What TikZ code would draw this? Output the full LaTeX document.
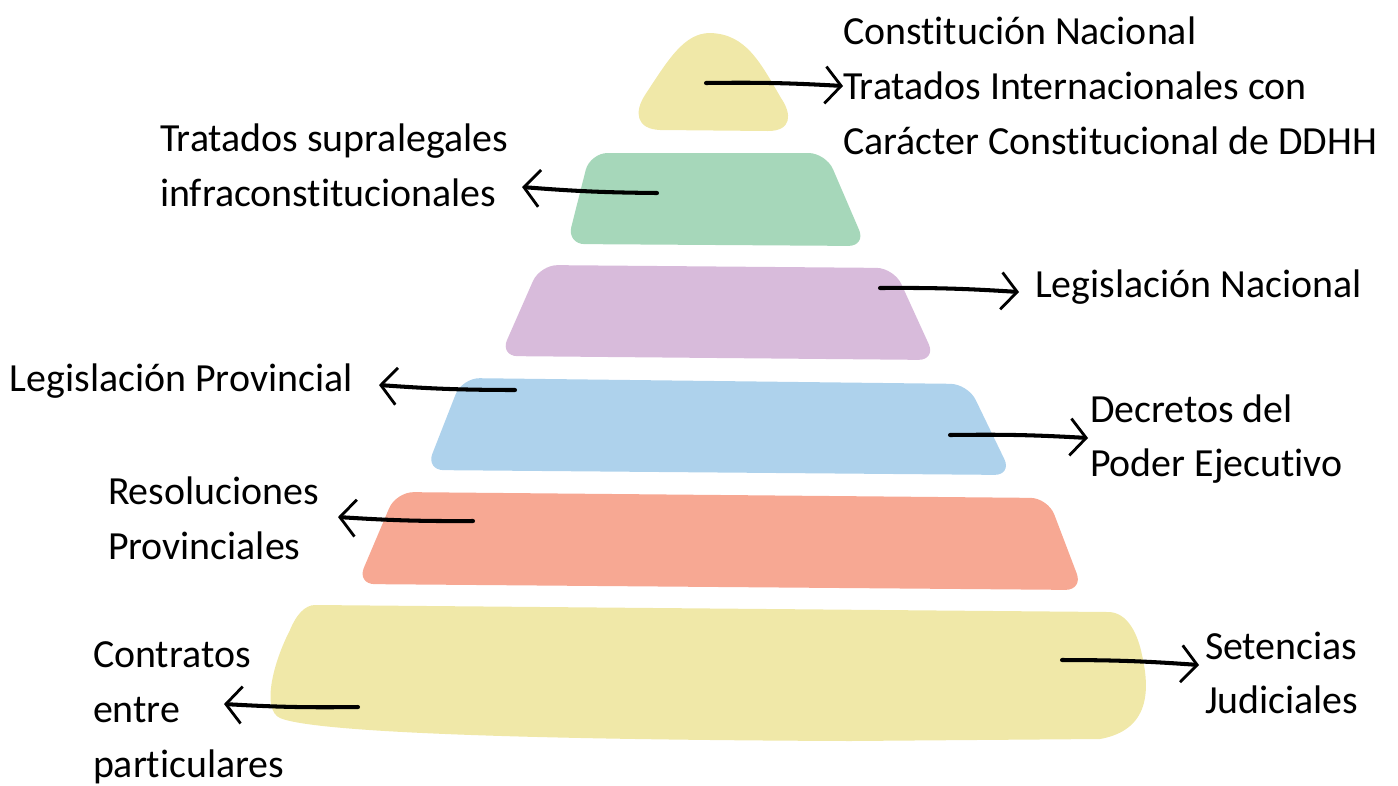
\documentclass[tikz,border=0pt]{standalone}
\usepackage{fontspec}
\setmainfont{Carlito}[Ligatures=NoCommon]
\usepackage{tikz}
\usetikzlibrary{positioning}
\usetikzlibrary{arrows.meta,calc}
\definecolor{capaamarilla}{HTML}{F0E8A8}
\definecolor{capaverde}{HTML}{A6D7BA}
\definecolor{capavioleta}{HTML}{D8BBDB}
\definecolor{capaazul}{HTML}{AED2EC}
\definecolor{capasalmon}{HTML}{F7A893}
\newcommand{\textsize}{\fontsize{22.7}{31.2}\selectfont}

\begin{document}
\begin{tikzpicture}[x=0.02cm, y=-0.02cm, outer sep = 0pt]
\tikzstyle{etiqueta}=[
                  rectangle,
                  inner sep=0pt,
                  align=left,
                  anchor=west,
                  font=\textsize]

\tikzstyle{flecha}=[
                  line width=2.3pt,
                  line cap=round,
                  -{Straight Barb[length=9pt,width=21pt,line width=1.6pt]}]

\tikzstyle{capa}=[
                  rounded corners=10pt]

\useasboundingbox (0,0) rectangle (1398,785);

% piramide
\fill[capaamarilla] (660,130) -- (768,131) .. controls (792,131) and (792,114) .. (781,98)
                    .. controls (760,62) and (746,34) .. (710,33) .. controls (684,33) and (668,60) .. (645,95)
                    .. controls (634,112) and (636,129) .. (660,130) -- cycle;
\fill[capaverde,capa]   (590,153) -- (826,153) -- (866,246) -- (567,244) -- cycle;
\fill[capavioleta,capa] (540,265) -- (894,268) -- (936,360) -- (500,356) -- cycle;
\fill[capaazul,capa]    (462,378) -- (968,384) -- (1012,475) -- (426,470) -- cycle;
\fill[capasalmon,capa]  (396,492) -- (1048,498) -- (1083,590) -- (357,584) -- cycle;
\fill[capaamarilla] (315,605) -- (1108,612) .. controls (1128,612) and (1138,635) .. (1142,655)
                    .. controls (1150,690) and (1150,730) .. (1100,739) -- (850,741)
                    .. controls (600,740) and (320,735) .. (280,718)
                    .. controls (262,710) and (272,665) .. (290,630)
                    .. controls (296,615) and (305,605) .. (315,605) -- cycle;

% textos
\node[etiqueta] (constitucion)  at (843,86)  {Constitución Nacional\\Tratados Internacionales con\\Carácter Constitucional de DDHH};
\node[etiqueta] (supralegales)  at (160,165) {Tratados supralegales\\infraconstitucionales};
\node[etiqueta] (legnacional)   at (1035,287) {Legislación Nacional};
\node[etiqueta] (legprovincial) at (10,381)  {Legislación Provincial};
\node[etiqueta] (decretos)      at (1090,439) {Decretos del\\Poder Ejecutivo};
\node[etiqueta] (resoluciones)  at (108,518) {Resoluciones\\Provinciales};
\node[etiqueta] (contratos)     at (93,713)  {Contratos\\entre\\particulares};
\node[etiqueta] (sentencias)    at (1205,673) {Setencias\\Judiciales};

% flechas
\coordinate (c1) at (706,83);
\coordinate (c2) at (657,193);
\coordinate (c3) at (880,288);
\coordinate (c4) at (515,390);
\coordinate (c5) at (950,435);
\coordinate (c6) at (473,521);
\coordinate (c7) at (358,707);
\coordinate (c8) at (1062,660);
\coordinate (p2) at (522,187);
\coordinate (p4) at (379,385);
\coordinate (p6) at (338,517);
\coordinate (p7) at (224,704);

\draw[flecha] (c1) to[bend left=2] (constitucion.west);
\draw[flecha] (c2) to[bend left=2] (p2);
\draw[flecha] (c3) to[bend left=2] ($(legnacional.west)+(-16,5)$);
\draw[flecha] (c4) to[bend left=2] (p4);
\draw[flecha] (c5) to[bend left=2] ($(decretos.west)+(-2,-1)$);
\draw[flecha] (c6) to[bend left=2] (p6);
\draw[flecha] (c7) to[bend left=2] (p7);
\draw[flecha] (c8) to[bend left=2] ($(sentencias.west)+(-6,-8)$);

\end{tikzpicture}
\end{document}
